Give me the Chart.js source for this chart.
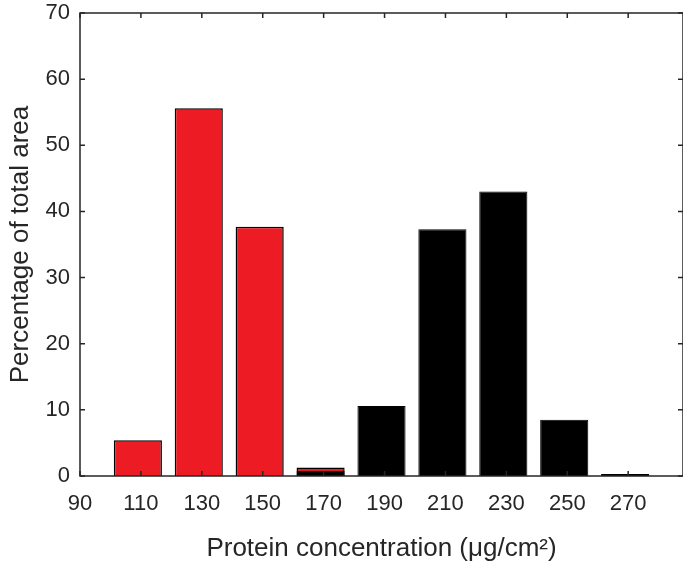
<!DOCTYPE html>
<html>
<head>
<meta charset="utf-8">
<script src="https://cdn.jsdelivr.net/npm/chart.js@4"></script>
<style>
  html, body { margin: 0; padding: 0; background: #fff; }
  #wrap { width: 683px; height: 564px; }
</style>
</head>
<body>
<div id="wrap"><canvas id="histChart" width="683" height="564"></canvas></div>
<script>
// Datos (centros de barra un poco a la izquierda de las marcas)
const redCenters = [109, 129, 149, 169];
const redValues = [5.4, 55.6, 37.7, 1.3];
const blackCenters = [169, 189, 209, 229, 249, 269];
const blackValues = [0.8, 10.6, 37.3, 43.0, 8.5, 0.3];
const xTicks = [90, 110, 130, 150, 170, 190, 210, 230, 250, 270];
const yTicks = [0, 10, 20, 30, 40, 50, 60, 70];

const toPoints = (xs, ys) => xs.map((x, i) => ({ x: x, y: ys[i] }));

// Caja y marcas hacia adentro, estilo MATLAB
const boxPlugin = {
  id: 'boxTicks',
  afterDatasetsDraw(chart) {
    const { ctx, chartArea: a, scales } = chart;
    ctx.save();
    ctx.strokeStyle = '#262626';
    ctx.lineWidth = 1.5;
    ctx.strokeRect(a.left, a.top, a.right - a.left, a.bottom - a.top);
    const len = 5;
    ctx.beginPath();
    xTicks.forEach(v => {
      const px = scales.x.getPixelForValue(v);
      ctx.moveTo(px, a.bottom); ctx.lineTo(px, a.bottom - len);
      ctx.moveTo(px, a.top); ctx.lineTo(px, a.top + len);
    });
    yTicks.forEach(v => {
      const py = scales.y.getPixelForValue(v);
      ctx.moveTo(a.left, py); ctx.lineTo(a.left + len, py);
      ctx.moveTo(a.right, py); ctx.lineTo(a.right - len, py);
    });
    ctx.stroke();
    ctx.restore();
  }
};

const ctx = document.getElementById('histChart').getContext('2d');
new Chart(ctx, {
  type: 'bar',
  data: {
    datasets: [
      {
        label: 'black',
        data: toPoints(blackCenters, blackValues),
        backgroundColor: '#000000',
        borderColor: '#000000',
        borderWidth: 1
      },
      {
        label: 'red',
        data: toPoints(redCenters, redValues),
        backgroundColor: '#ed1c24',
        borderColor: '#000000',
        borderWidth: 1.5
      }
    ]
  },
  options: {
    responsive: false,
    animation: false,
    layout: { padding: { top: 13, right: 0, left: 0, bottom: 0 } },
    plugins: { legend: { display: false }, tooltip: { enabled: false } },
    datasets: { bar: { grouped: false, barPercentage: 0.79, categoryPercentage: 1 } },
    scales: {
      x: {
        type: 'linear',
        min: 90,
        max: 288,
        offset: false,
        afterBuildTicks: (scale) => { scale.ticks = xTicks.map(v => ({ value: v })); },
        afterFit: (scale) => {
          scale.height = 88;
          scale.paddingLeft = 0;
          scale.paddingRight = 0;
        },
        grid: { display: false, drawTicks: false },
        border: { display: false },
        ticks: {
          padding: 15,
          color: '#262626',
          font: { family: 'Liberation Sans', size: 22 },
          maxRotation: 0
        },
        title: {
          display: true,
          text: 'Protein concentration (\u03bcg/cm\u00b2)',
          color: '#262626',
          font: { family: 'Liberation Sans', size: 26 },
          padding: { top: 4, bottom: 0 }
        }
      },
      y: {
        min: 0,
        max: 70,
        afterBuildTicks: (scale) => { scale.ticks = yTicks.map(v => ({ value: v })); },
        afterFit: (scale) => {
          scale.width = 80;
          scale.paddingTop = 0;
          scale.paddingBottom = 0;
        },
        grid: { display: false, drawTicks: false },
        border: { display: false },
        ticks: {
          padding: 10,
          color: '#262626',
          font: { family: 'Liberation Sans', size: 22 }
        },
        title: {
          display: true,
          text: 'Percentage of total area',
          color: '#262626',
          font: { family: 'Liberation Sans', size: 26 },
          padding: { top: 5, bottom: 4 }
        }
      }
    }
  },
  plugins: [boxPlugin]
});
</script>
</body>
</html>
